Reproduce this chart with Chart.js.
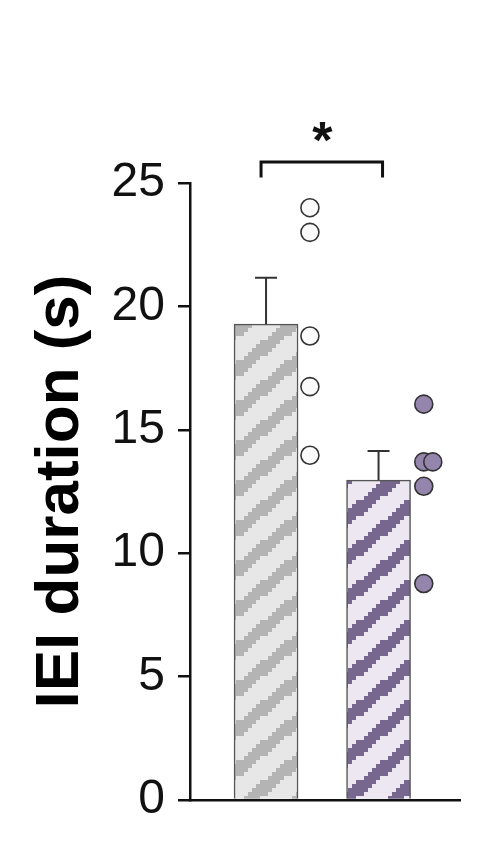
<!DOCTYPE html>
<html>
<head>
<meta charset="utf-8">
<script src="https://cdn.jsdelivr.net/npm/chart.js@4.4.1/dist/chart.umd.min.js"></script>
<style>
  html, body { margin: 0; padding: 0; background: #ffffff; }
  #wrap { width: 480px; height: 844px; }
</style>
</head>
<body>
<div id="wrap"><canvas id="c" width="480" height="844"></canvas></div>
<script>
// ---- data ----
const groups = ['Group 1', 'Group 2'];
const meanValues = [19.28, 12.96];
const semValues = [1.88, 1.18];
const group1Points = [24.0, 23.0, 18.8, 16.75, 13.97];
const group2Points = [16.04, 13.7, 13.7, 12.71, 8.77];
const yTicks = [0, 5, 10, 15, 20, 25];
const yTitle = 'IEI duration (s)';
const sigLabel = '*';

// ---- styling helpers ----
function makeStripePattern(bg, fg) {
  const W = 48, H = 40, b = 4, t = 16;
  const c = document.createElement('canvas');
  c.width = W; c.height = H;
  const g = c.getContext('2d');
  g.fillStyle = bg; g.fillRect(0, 0, W, H);
  g.fillStyle = fg;
  const s = H / W;
  for (let y = 0; y < H; y += b) {
    for (let x = 0; x < W; x += b) {
      const v = (((y + b / 2) + s * (x + b / 2)) % H + H) % H;
      if (v < t) g.fillRect(x, y, b, b);
    }
  }
  return g.createPattern(c, 'repeat');
}

const barFills = [makeStripePattern('#e7e7e7', '#b4b4b4'), makeStripePattern('#ece7f1', '#77678f')];
const pointFills = ['#fafafa', '#9485ad'];
const POINT_OFFSET = 0.39;
const DUP_SHIFT = 0.08;

function pointsFor(groupIndex, values) {
  const seen = {};
  return values.map(v => {
    const key = v.toFixed(2);
    const n = seen[key] || 0;
    seen[key] = n + 1;
    return { x: groupIndex + POINT_OFFSET + n * DUP_SHIFT + (groupIndex ? 0.012 : 0), y: v };
  });
}

const errorBarPlugin = {
  id: 'errorBars',
  afterDatasetsDraw(chart) {
    const ctx = chart.ctx;
    const xs = chart.scales.x, ys = chart.scales.y;
    ctx.save();
    ctx.strokeStyle = '#333333';
    ctx.lineWidth = 2;
    meanValues.forEach((m, i) => {
      const px = xs.getPixelForValue(i);
      const y0 = ys.getPixelForValue(m);
      const y1 = ys.getPixelForValue(m + semValues[i]);
      ctx.beginPath();
      ctx.moveTo(px, y0); ctx.lineTo(px, y1);
      ctx.moveTo(px - 11, y1); ctx.lineTo(px + 11, y1);
      ctx.stroke();
    });
    // significance bracket
    const xa = xs.getPixelForValue(0) - 5;
    const xb = xs.getPixelForValue(1) + 4;
    const yt = ys.getPixelForValue(25.85);
    const yl = ys.getPixelForValue(25.22);
    ctx.strokeStyle = '#111111';
    ctx.lineWidth = 3;
    ctx.lineCap = 'butt';
    ctx.beginPath();
    ctx.moveTo(xa, yl); ctx.lineTo(xa, yt); ctx.lineTo(xb, yt); ctx.lineTo(xb, yl);
    ctx.stroke();
    ctx.fillStyle = '#111111';
    ctx.font = 'bold 52px "Liberation Sans", Arial, sans-serif';
    ctx.textAlign = 'center';
    ctx.textBaseline = 'alphabetic';
    ctx.fillText(sigLabel, (xa + xb) / 2 + 0.5, yt - 4);
    ctx.restore();
  }
};

new Chart(document.getElementById('c'), {
  type: 'bar',
  data: {
    datasets: [
      {
        type: 'bar',
        label: 'Mean',
        data: groups.map((g, i) => ({ x: i, y: meanValues[i] })),
        backgroundColor: barFills,
        borderColor: '#555555',
        borderWidth: 1.5,
        barThickness: 64,
        order: 2
      },
      {
        type: 'scatter',
        label: groups[0],
        data: pointsFor(0, group1Points),
        backgroundColor: pointFills[0],
        borderColor: '#333333',
        borderWidth: 1.6,
        pointRadius: 9,
        order: 1
      },
      {
        type: 'scatter',
        label: groups[1],
        data: pointsFor(1, group2Points),
        backgroundColor: pointFills[1],
        borderColor: '#333333',
        borderWidth: 1.6,
        pointRadius: 9,
        order: 1
      }
    ]
  },
  options: {
    responsive: false,
    animation: false,
    devicePixelRatio: 1,
    layout: { padding: { left: 0, right: 20, top: 183, bottom: 44 } },
    plugins: { legend: { display: false }, tooltip: { enabled: false } },
    scales: {
      x: {
        type: 'linear',
        offset: false,
        min: -0.676,
        max: 1.724,
        ticks: { display: false },
        grid: { display: false, drawTicks: false, offset: false },
        border: { display: true, color: '#111111', width: 2.5 },
        afterFit(scale) { scale.height = 0; }
      },
      y: {
        min: 0,
        max: 25,
        afterBuildTicks(scale) { scale.ticks = yTicks.map(v => ({ value: v })); },
        ticks: {
          color: '#111111',
          padding: 13,
          font: { family: '"Liberation Sans", Arial, sans-serif', size: 48 }
        },
        grid: { drawOnChartArea: false, drawTicks: true, tickLength: 12, color: '#111111', lineWidth: 2.5 },
        border: { display: true, color: '#111111', width: 2.5 },
        title: {
          display: true,
          text: yTitle,
          color: '#000000',
          padding: { top: 24, bottom: 0 },
          font: { family: '"Liberation Sans", Arial, sans-serif', size: 62, weight: 'bold' }
        },
        afterFit(scale) { scale.width = 190; }
      }
    }
  },
  plugins: [errorBarPlugin]
});
</script>
</body>
</html>
